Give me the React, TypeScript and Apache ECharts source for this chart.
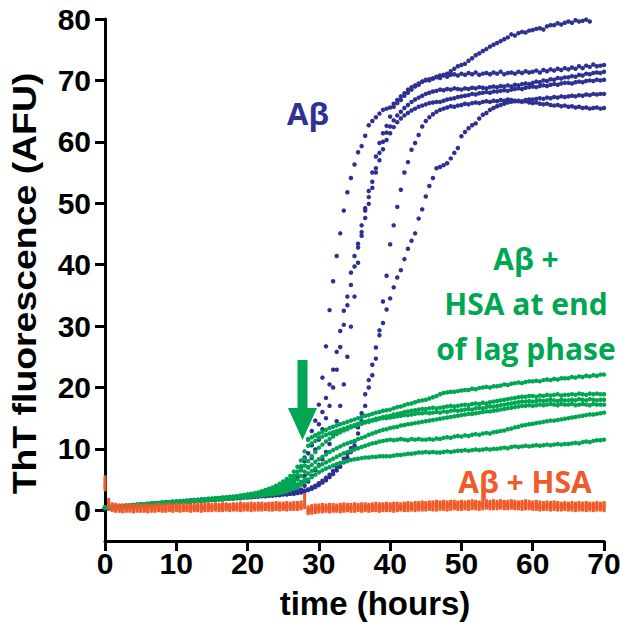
import React, { useEffect, useRef } from 'react';
import * as echarts from 'echarts';

// sampling times (hours), every 0.5 h from 0 to 70
const HOURS_STEP = 0.5;
const HOURS: number[] = Array.from({ length: 141 }, (_, i) => i * HOURS_STEP);

const X_TICKS = [0, 10, 20, 30, 40, 50, 60, 70];
const Y_TICKS = [0, 10, 20, 30, 40, 50, 60, 70, 80];

// Aβ alone (blue), six wells
const ABETA_1 = [
  0.3, 0.4, 0.4, 0.5, 0.6, 0.6, 0.7, 0.7, 0.8, 0.8,
  0.9, 0.9, 1.0, 1.0, 1.1, 1.1, 1.2, 1.2, 1.3, 1.3,
  1.4, 1.4, 1.5, 1.5, 1.6, 1.6, 1.7, 1.7, 1.7, 1.8,
  1.8, 1.9, 1.9, 2.0, 2.0, 2.1, 2.1, 2.2, 2.2, 2.3,
  2.3, 2.4, 2.5, 2.5, 2.6, 2.7, 2.8, 2.9, 3.1, 3.3,
  3.5, 3.8, 4.2, 4.8, 5.6, 7.0, 8.6, 11.5, 12.9, 14.6,
  17.2, 21.6, 26.7, 32.6, 37.3, 41.4, 45.1, 48.8, 51.8, 54.1,
  56.3, 58.3, 59.3, 61.0, 62.7, 63.4, 64.0, 64.6, 65.2, 65.4,
  65.6, 66.2, 66.8, 67.4, 67.9, 68.5, 68.9, 69.2, 69.5, 69.8,
  70.0, 70.2, 70.3, 70.6, 70.8, 70.9, 71.1, 71.5, 71.9, 72.3,
  72.5, 72.7, 73.2, 73.6, 74.1, 74.4, 74.8, 75.1, 75.5, 75.8,
  76.1, 76.4, 76.7, 77.0, 77.5, 77.3, 77.7, 77.9, 77.8, 78.1,
  78.2, 78.4, 78.5, 78.3, 78.8, 79.0, 79.0, 79.3, 79.1, 79.4,
  79.6, 79.4, 79.8, 79.6, 79.7, 79.9, 79.6, null, null, null,
  null,
];
const ABETA_2 = [
  0.4, 0.4, 0.5, 0.5, 0.6, 0.6, 0.7, 0.7, 0.8, 0.8,
  0.9, 0.9, 1.0, 1.0, 1.1, 1.1, 1.2, 1.2, 1.2, 1.3,
  1.3, 1.4, 1.4, 1.5, 1.5, 1.6, 1.6, 1.7, 1.7, 1.8,
  1.8, 1.8, 1.9, 1.9, 2.0, 2.0, 2.1, 2.1, 2.2, 2.2,
  2.3, 2.3, 2.4, 2.5, 2.5, 2.6, 2.7, 2.8, 2.9, 3.0,
  3.2, 3.5, 3.9, 4.5, 5.3, 6.5, 8.0, 9.3, 10.6, 12.2,
  14.0, 16.0, 18.3, 20.5, 22.9, 25.8, 29.2, 32.5, 34.8, 38.7,
  41.4, 43.4, 46.4, 49.2, 52.0, 55.0, 57.6, 59.8, 61.4, 62.6,
  64.1, 65.7, 66.3, 66.8, 67.5, 68.0, 68.5, 69.0, 69.3, 69.8,
  70.1, 70.0, 70.3, 70.5, 70.4, 70.8, 70.6, 70.9, 71.0, 70.8,
  71.1, 70.9, 71.2, 71.0, 71.3, 70.9, 71.1, 71.2, 71.0, 71.3,
  71.1, 71.4, 71.0, 71.2, 71.3, 71.1, 71.4, 71.2, 71.5, 71.3,
  71.4, 71.6, 71.3, 71.7, 71.5, 71.8, 71.6, 71.9, 71.7, 72.0,
  71.8, 72.1, 71.9, 72.3, 72.0, 72.4, 72.2, 72.6, 72.3, 72.4,
  72.5,
];
const ABETA_3 = [
  0.3, 0.4, 0.4, 0.5, 0.5, 0.6, 0.6, 0.7, 0.7, 0.8,
  0.8, 0.9, 0.9, 1.0, 1.0, 1.1, 1.1, 1.2, 1.2, 1.3,
  1.3, 1.3, 1.4, 1.4, 1.5, 1.5, 1.6, 1.6, 1.7, 1.7,
  1.8, 1.8, 1.8, 1.9, 1.9, 2.0, 2.0, 2.1, 2.1, 2.2,
  2.2, 2.3, 2.3, 2.4, 2.4, 2.5, 2.6, 2.6, 2.7, 2.8,
  2.8, 2.9, 3.1, 3.4, 3.9, 4.6, 5.6, 7.0, 8.5, 9.9,
  11.5, 13.2, 15.0, 17.0, 20.0, 22.9, 26.6, 30.2, 33.4, 36.7,
  39.7, 42.8, 45.3, 48.8, 51.0, 53.5, 55.7, 58.2, 60.0, 61.5,
  62.5, 63.5, 64.3, 64.9, 65.5, 66.0, 66.5, 66.9, 67.2, 67.5,
  67.8, 68.0, 68.2, 68.3, 68.5, 68.4, 68.6, 68.5, 68.7, 68.6,
  68.5, 68.7, 68.6, 68.8, 68.7, 68.9, 68.8, 68.7, 68.9, 69.0,
  68.9, 69.1, 69.0, 69.2, 69.0, 69.3, 69.2, 69.4, 69.5, 69.4,
  69.6, 69.8, 69.7, 70.0, 69.9, 70.2, 70.1, 70.4, 70.3, 70.5,
  70.5, 70.7, 70.6, 70.9, 70.8, 71.1, 71.0, 71.2, 71.3, 71.2,
  71.4,
];
const ABETA_4 = [
  0.4, 0.5, 0.5, 0.6, 0.6, 0.7, 0.7, 0.8, 0.8, 0.9,
  0.9, 1.0, 1.0, 1.1, 1.1, 1.2, 1.2, 1.3, 1.3, 1.4,
  1.4, 1.4, 1.5, 1.5, 1.6, 1.6, 1.6, 1.7, 1.7, 1.8,
  1.8, 1.9, 1.9, 1.9, 2.0, 2.0, 2.1, 2.1, 2.1, 2.2,
  2.2, 2.3, 2.3, 2.4, 2.4, 2.5, 2.5, 2.6, 2.6, 2.7,
  2.7, 2.7, 2.8, 2.9, 3.1, 3.4, 4.0, 4.7, 5.6, 6.5,
  7.4, 8.3, 9.5, 10.8, 12.5, 14.5, 17.0, 20.5, 25.0, 29.9,
  34.8, 40.3, 44.7, 47.6, 49.9, 52.5, 55.0, 57.0, 58.8, 60.3,
  61.4, 62.4, 63.2, 63.8, 64.3, 64.7, 65.1, 65.4, 65.7, 65.9,
  66.1, 66.3, 66.4, 66.5, 66.5, 66.7, 66.9, 67.0, 67.1, 67.3,
  67.4, 67.5, 67.6, 67.8, 67.7, 67.9, 68.0, 68.1, 68.0, 68.2,
  68.2, 68.3, 68.4, 68.3, 68.5, 68.6, 68.7, 68.6, 68.8, 68.9,
  69.0, 68.9, 69.1, 69.2, 69.1, 69.3, 69.4, 69.3, 69.5, 69.6,
  69.6, 69.5, 69.7, 69.8, 69.7, 69.9, 70.0, 69.9, 70.1, 70.0,
  70.1,
];
const ABETA_5 = [
  0.3, 0.3, 0.4, 0.4, 0.5, 0.5, 0.6, 0.6, 0.7, 0.7,
  0.8, 0.8, 0.9, 0.9, 1.0, 1.0, 1.1, 1.1, 1.2, 1.2,
  1.3, 1.3, 1.4, 1.4, 1.5, 1.5, 1.5, 1.6, 1.6, 1.7,
  1.7, 1.7, 1.8, 1.8, 1.9, 1.9, 1.9, 2.0, 2.0, 2.1,
  2.1, 2.1, 2.2, 2.2, 2.3, 2.3, 2.4, 2.4, 2.5, 2.5,
  2.6, 2.6, 2.7, 2.8, 2.9, 3.0, 3.2, 3.4, 3.7, 4.0,
  4.4, 4.8, 5.3, 5.8, 6.4, 7.0, 7.7, 8.4, 9.2, 10.1,
  11.2, 13.5, 15.8, 18.9, 21.2, 23.7, 26.5, 29.3, 34.0, 38.2,
  43.3, 46.4, 49.4, 52.2, 55.0, 56.7, 58.7, 59.8, 61.1, 62.5,
  63.4, 64.0, 64.5, 64.9, 65.2, 65.4, 65.6, 65.8, 65.7, 65.9,
  66.0, 66.2, 66.1, 66.3, 66.4, 66.3, 66.5, 66.6, 66.5, 66.7,
  66.6, 66.8, 66.7, 66.9, 66.8, 66.7, 66.6, 66.5, 66.6, 66.4,
  66.3, 66.4, 66.2, 66.1, 66.2, 66.0, 65.9, 66.0, 65.8, 65.9,
  65.7, 65.8, 65.6, 65.7, 65.5, 65.6, 65.4, 65.5, 65.6, 65.4,
  65.5,
];
const ABETA_6 = [
  0.4, 0.4, 0.5, 0.5, 0.5, 0.6, 0.6, 0.7, 0.7, 0.8,
  0.8, 0.9, 0.9, 1.0, 1.0, 1.0, 1.1, 1.1, 1.2, 1.2,
  1.3, 1.3, 1.4, 1.4, 1.4, 1.5, 1.5, 1.6, 1.6, 1.7,
  1.7, 1.8, 1.8, 1.8, 1.9, 1.9, 2.0, 2.0, 2.0, 2.1,
  2.1, 2.2, 2.2, 2.3, 2.3, 2.3, 2.4, 2.4, 2.5, 2.5,
  2.6, 2.6, 2.7, 2.7, 2.8, 2.9, 3.1, 3.3, 3.5, 3.8,
  4.1, 4.5, 4.9, 5.4, 5.9, 6.5, 7.1, 7.8, 8.6, 9.5,
  10.5, 12.5, 14.5, 17.0, 20.0, 22.0, 24.7, 28.5, 30.5, 32.7,
  34.5, 36.3, 37.9, 39.1, 40.9, 42.6, 43.9, 45.1, 47.5, 49.0,
  51.1, 52.8, 54.1, 55.7, 55.9, 56.2, 56.5, 57.3, 58.2, 59.0,
  60.9, 61.6, 62.2, 62.7, 63.0, 63.8, 64.4, 64.7, 65.2, 65.5,
  65.8, 66.0, 66.2, 66.4, 66.5, 66.6, 66.7, 66.6, 66.8, 66.9,
  66.9, 67.0, 67.1, 67.0, 67.2, 67.1, 67.3, 67.2, 67.4, 67.3,
  67.4, 67.5, 67.4, 67.6, 67.5, 67.7, 67.6, 67.8, 67.7, 67.8,
  67.8,
];

// Aβ + HSA added at end of lag phase (green), six wells
const LAG_HSA_1 = [
  0.5, 0.5, 0.6, 0.6, 0.7, 0.7, 0.8, 0.8, 0.9, 0.9,
  1.0, 1.0, 1.1, 1.1, 1.2, 1.2, 1.3, 1.3, 1.3, 1.4,
  1.4, 1.5, 1.5, 1.6, 1.6, 1.7, 1.7, 1.8, 1.8, 1.9,
  1.9, 2.0, 2.0, 2.1, 2.1, 2.2, 2.2, 2.3, 2.4, 2.5,
  2.6, 2.7, 2.8, 2.9, 3.1, 3.3, 3.5, 3.7, 4.0, 4.3,
  4.7, 5.1, 5.6, 6.3, 7.1, 8.1, 9.6, 11.6, 11.9, 12.2,
  12.5, 12.8, 13.1, 13.4, 13.6, 13.8, 14.0, 14.2, 14.4, 14.6,
  14.8, 15.0, 15.2, 15.4, 15.5, 15.7, 15.9, 16.0, 16.2, 16.3,
  16.4, 16.6, 16.8, 16.9, 17.1, 17.3, 17.4, 17.6, 17.8, 17.9,
  18.0, 18.2, 18.4, 18.6, 18.9, 19.1, 19.2, 19.3, 19.3, 19.4,
  19.5, 19.6, 19.6, 19.8, 19.7, 19.9, 20.0, 20.1, 20.0, 20.2,
  20.2, 20.3, 20.5, 20.4, 20.6, 20.7, 20.8, 20.7, 20.9, 21.0,
  21.0, 21.1, 21.0, 21.2, 21.3, 21.2, 21.4, 21.3, 21.5, 21.5,
  21.5, 21.7, 21.6, 21.8, 21.7, 21.9, 21.8, 22.0, 21.9, 22.1,
  22.1,
];
const LAG_HSA_2 = [
  0.4, 0.5, 0.5, 0.6, 0.6, 0.7, 0.7, 0.8, 0.8, 0.9,
  0.9, 1.0, 1.0, 1.1, 1.1, 1.2, 1.2, 1.3, 1.3, 1.4,
  1.4, 1.4, 1.5, 1.5, 1.6, 1.6, 1.7, 1.7, 1.8, 1.8,
  1.9, 1.9, 2.0, 2.0, 2.1, 2.1, 2.2, 2.2, 2.3, 2.4,
  2.5, 2.6, 2.7, 2.8, 3.0, 3.1, 3.3, 3.5, 3.8, 4.0,
  4.3, 4.6, 5.0, 5.6, 6.3, 7.2, 8.4, 10.5, 10.9, 11.3,
  11.8, 12.0, 12.3, 12.5, 12.7, 12.9, 13.1, 13.3, 13.5, 13.7,
  13.9, 14.1, 14.2, 14.4, 14.6, 14.7, 14.9, 15.0, 15.2, 15.3,
  15.4, 15.6, 15.7, 15.8, 16.0, 16.1, 16.2, 16.3, 16.4, 16.5,
  16.5, 16.6, 16.7, 16.6, 16.7, 16.8, 16.9, 17.0, 16.9, 17.0,
  17.1, 17.2, 17.1, 17.3, 17.4, 17.3, 17.5, 17.4, 17.6, 17.7,
  17.8, 17.9, 18.0, 18.1, 18.2, 18.3, 18.4, 18.5, 18.5, 18.6,
  18.6, 18.5, 18.7, 18.6, 18.8, 18.7, 18.8, 18.9, 18.7, 18.8,
  18.8, 18.9, 18.8, 19.0, 18.9, 18.8, 19.0, 18.9, 19.0, 18.9,
  18.9,
];
const LAG_HSA_3 = [
  0.4, 0.4, 0.5, 0.5, 0.6, 0.6, 0.7, 0.7, 0.8, 0.8,
  0.9, 0.9, 1.0, 1.0, 1.1, 1.1, 1.2, 1.2, 1.3, 1.3,
  1.4, 1.4, 1.5, 1.5, 1.5, 1.6, 1.6, 1.7, 1.7, 1.8,
  1.8, 1.9, 1.9, 2.0, 2.0, 2.1, 2.1, 2.2, 2.2, 2.3,
  2.4, 2.5, 2.6, 2.7, 2.9, 3.0, 3.2, 3.3, 3.5, 3.7,
  4.0, 4.3, 4.7, 5.2, 5.8, 6.6, 7.3, 8.0, 8.8, 9.5,
  10.2, 10.7, 11.2, 11.6, 12.0, 12.4, 12.7, 13.0, 13.2, 13.5,
  13.7, 13.9, 14.1, 14.3, 14.4, 14.6, 14.7, 14.9, 15.0, 15.0,
  15.1, 15.2, 15.3, 15.4, 15.5, 15.5, 15.6, 15.7, 15.8, 15.8,
  15.9, 15.8, 15.9, 16.0, 15.9, 16.1, 16.0, 16.2, 16.3, 16.2,
  16.3, 16.4, 16.5, 16.4, 16.6, 16.7, 16.6, 16.8, 16.9, 16.9,
  17.0, 17.1, 17.2, 17.3, 17.4, 17.5, 17.6, 17.7, 17.7, 17.8,
  17.7, 17.8, 17.9, 17.8, 17.9, 18.0, 17.9, 17.8, 18.0, 17.9,
  17.9, 18.0, 17.9, 18.1, 18.0, 17.9, 18.1, 18.0, 17.9, 18.0,
  18.0,
];
const LAG_HSA_4 = [
  0.5, 0.5, 0.5, 0.6, 0.6, 0.7, 0.7, 0.8, 0.8, 0.9,
  0.9, 1.0, 1.0, 1.0, 1.1, 1.1, 1.2, 1.2, 1.3, 1.3,
  1.3, 1.4, 1.4, 1.5, 1.5, 1.6, 1.6, 1.6, 1.7, 1.7,
  1.8, 1.8, 1.9, 1.9, 2.0, 2.0, 2.1, 2.1, 2.2, 2.2,
  2.3, 2.4, 2.5, 2.6, 2.7, 2.8, 2.9, 3.1, 3.3, 3.4,
  3.6, 3.9, 4.2, 4.6, 5.0, 5.6, 6.3, 7.0, 7.4, 7.9,
  8.3, 8.7, 9.1, 9.5, 9.8, 10.1, 10.4, 10.7, 10.9, 11.1,
  11.3, 11.6, 11.8, 12.0, 12.3, 12.5, 12.7, 12.9, 13.1, 13.2,
  13.4, 13.5, 13.6, 13.8, 13.9, 14.0, 14.1, 14.2, 14.3, 14.4,
  14.5, 14.6, 14.7, 14.8, 14.9, 15.0, 15.1, 15.2, 15.3, 15.4,
  15.5, 15.6, 15.7, 15.7, 15.8, 15.9, 16.0, 16.1, 16.1, 16.2,
  16.3, 16.4, 16.5, 16.6, 16.7, 16.8, 16.9, 17.0, 17.0, 17.1,
  17.0, 17.1, 17.2, 17.1, 17.2, 17.3, 17.2, 17.1, 17.3, 17.2,
  17.2, 17.3, 17.1, 17.2, 17.3, 17.2, 17.1, 17.3, 17.2, 17.2,
  17.2,
];
const LAG_HSA_5 = [
  0.4, 0.4, 0.5, 0.5, 0.6, 0.6, 0.6, 0.7, 0.7, 0.8,
  0.8, 0.9, 0.9, 1.0, 1.0, 1.1, 1.1, 1.1, 1.2, 1.2,
  1.3, 1.3, 1.4, 1.4, 1.5, 1.5, 1.5, 1.6, 1.6, 1.7,
  1.7, 1.8, 1.8, 1.9, 1.9, 2.0, 2.0, 2.0, 2.1, 2.1,
  2.2, 2.3, 2.3, 2.4, 2.5, 2.6, 2.7, 2.8, 2.9, 3.0,
  3.2, 3.4, 3.6, 3.9, 4.2, 4.6, 5.1, 6.0, 6.4, 6.8,
  7.2, 7.5, 7.8, 8.1, 8.4, 8.7, 9.0, 9.3, 9.5, 9.7,
  9.9, 10.1, 10.3, 10.5, 10.7, 10.9, 11.0, 11.2, 11.3, 11.4,
  11.5, 11.4, 11.5, 11.6, 11.5, 11.4, 11.6, 11.5, 11.6, 11.5,
  11.5, 11.6, 11.5, 11.7, 11.6, 11.8, 11.9, 11.8, 12.0, 12.1,
  12.0, 12.2, 12.1, 12.3, 12.4, 12.3, 12.5, 12.6, 12.5, 12.7,
  12.8, 12.9, 13.0, 13.2, 13.3, 13.5, 13.6, 13.8, 13.9, 14.0,
  14.1, 14.2, 14.3, 14.4, 14.5, 14.6, 14.6, 14.7, 14.8, 14.9,
  15.0, 15.1, 15.2, 15.3, 15.4, 15.5, 15.6, 15.6, 15.7, 15.8,
  15.9,
];
const LAG_HSA_6 = [
  0.5, 0.5, 0.5, 0.6, 0.6, 0.7, 0.7, 0.7, 0.8, 0.8,
  0.9, 0.9, 1.0, 1.0, 1.0, 1.1, 1.1, 1.2, 1.2, 1.3,
  1.3, 1.3, 1.4, 1.4, 1.5, 1.5, 1.6, 1.6, 1.6, 1.7,
  1.7, 1.8, 1.8, 1.8, 1.9, 1.9, 2.0, 2.0, 2.1, 2.1,
  2.1, 2.2, 2.3, 2.3, 2.4, 2.5, 2.6, 2.6, 2.7, 2.8,
  2.9, 3.1, 3.3, 3.5, 3.8, 4.2, 4.6, 5.0, 5.4, 5.8,
  6.2, 6.5, 6.8, 7.0, 7.3, 7.5, 7.7, 7.9, 8.0, 8.2,
  8.3, 8.4, 8.5, 8.6, 8.6, 8.7, 8.7, 8.8, 8.8, 8.8,
  8.8, 8.9, 9.0, 9.0, 9.1, 9.2, 9.2, 9.3, 9.4, 9.4,
  9.5, 9.4, 9.5, 9.4, 9.4, 9.5, 9.6, 9.5, 9.6, 9.7,
  9.7, 9.8, 9.7, 9.8, 9.9, 9.8, 9.9, 10.0, 9.9, 10.0,
  10.0, 10.1, 10.2, 10.1, 10.3, 10.4, 10.3, 10.4, 10.5, 10.4,
  10.5, 10.6, 10.5, 10.6, 10.7, 10.6, 10.7, 10.8, 10.7, 10.8,
  10.8, 10.9, 11.0, 10.9, 11.1, 11.2, 11.1, 11.3, 11.4, 11.4,
  11.5,
];

// Aβ + HSA from the start (orange)
const HSA_1 = [
  5.3, 1.6, 0.9, 0.8, 0.7, 0.7, 0.6, 0.7, 0.6, 0.7,
  0.6, 0.7, 0.7, 0.6, 0.7, 0.8, 0.7, 0.7, 0.8, 0.7,
  0.8, 0.7, 0.8, 0.8, 0.7, 0.8, 0.9, 0.8, 0.8, 0.9,
  0.8, 0.9, 0.8, 0.9, 0.9, 0.8, 0.9, 0.9, 1.0, 0.9,
  0.9, 1.0, 0.9, 1.0, 1.0, 0.9, 1.0, 1.0, 1.1, 1.0,
  1.0, 1.1, 1.0, 1.1, 1.1, 1.2, 2.4, 0.4, 0.6, 0.7,
  0.7, 0.8, 0.7, 0.8, 0.8, 0.7, 0.8, 0.9, 0.8, 0.8,
  0.9, 0.8, 0.9, 0.9, 0.8, 0.9, 1.0, 0.9, 0.9, 1.0,
  0.9, 1.0, 1.0, 0.9, 1.0, 1.1, 1.0, 1.1, 1.1, 1.2,
  1.1, 1.2, 1.2, 1.3, 1.2, 1.3, 1.2, 1.3, 1.3, 1.2,
  1.3, 1.2, 1.3, 1.4, 1.3, 1.2, 1.3, 1.4, 1.3, 1.4,
  1.3, 1.4, 1.3, 1.3, 1.4, 1.3, 1.2, 1.3, 1.4, 1.3,
  1.2, 1.3, 1.2, 1.1, 1.2, 1.1, 1.2, 1.1, 1.0, 1.1,
  1.0, 1.1, 1.0, 1.1, 1.0, 1.1, 1.0, 1.0, 1.1, 1.0,
  1.1,
];
const HSA_2 = [
  4.6, 1.2, 0.6, 0.5, 0.4, 0.4, 0.5, 0.4, 0.5, 0.4,
  0.5, 0.4, 0.5, 0.5, 0.4, 0.5, 0.5, 0.6, 0.5, 0.5,
  0.6, 0.5, 0.5, 0.6, 0.6, 0.5, 0.6, 0.6, 0.5, 0.6,
  0.6, 0.7, 0.6, 0.6, 0.7, 0.6, 0.7, 0.6, 0.7, 0.7,
  0.6, 0.7, 0.7, 0.6, 0.7, 0.7, 0.8, 0.7, 0.7, 0.8,
  0.7, 0.8, 0.7, 0.8, 0.8, 0.8, 1.8, 0.1, 0.3, 0.4,
  0.4, 0.5, 0.4, 0.5, 0.5, 0.4, 0.5, 0.5, 0.6, 0.5,
  0.5, 0.6, 0.5, 0.6, 0.6, 0.5, 0.6, 0.6, 0.7, 0.6,
  0.6, 0.7, 0.6, 0.7, 0.7, 0.8, 0.7, 0.8, 0.8, 0.9,
  0.8, 0.9, 0.9, 0.8, 0.9, 1.0, 0.9, 1.0, 0.9, 1.0,
  1.0, 0.9, 1.0, 1.0, 1.1, 1.0, 1.0, 1.1, 1.0, 1.1,
  1.0, 1.1, 1.0, 1.0, 1.1, 1.0, 0.9, 1.0, 1.0, 0.9,
  0.9, 0.9, 0.8, 0.9, 0.8, 0.8, 0.9, 0.8, 0.7, 0.8,
  0.8, 0.7, 0.8, 0.7, 0.7, 0.8, 0.7, 0.7, 0.8, 0.7,
  0.8,
];
const HSA_3 = [
  4.0, 0.9, 0.3, 0.2, 0.2, 0.1, 0.2, 0.2, 0.1, 0.2,
  0.2, 0.1, 0.2, 0.2, 0.3, 0.2, 0.2, 0.3, 0.2, 0.3,
  0.3, 0.2, 0.3, 0.3, 0.2, 0.3, 0.3, 0.4, 0.3, 0.3,
  0.4, 0.3, 0.4, 0.3, 0.4, 0.4, 0.3, 0.4, 0.4, 0.5,
  0.4, 0.4, 0.5, 0.4, 0.5, 0.4, 0.5, 0.5, 0.4, 0.5,
  0.5, 0.5, 0.6, 0.5, 0.6, 0.6, 1.2, -0.2, 0.0, 0.1,
  0.2, 0.1, 0.2, 0.2, 0.1, 0.2, 0.3, 0.2, 0.2, 0.3,
  0.3, 0.2, 0.3, 0.3, 0.3, 0.2, 0.3, 0.4, 0.3, 0.3,
  0.4, 0.3, 0.4, 0.4, 0.3, 0.4, 0.5, 0.4, 0.5, 0.5,
  0.5, 0.6, 0.5, 0.6, 0.6, 0.5, 0.6, 0.7, 0.6, 0.6,
  0.7, 0.6, 0.7, 0.7, 0.6, 0.7, 0.8, 0.7, 0.7, 0.8,
  0.7, 0.7, 0.8, 0.7, 0.7, 0.6, 0.7, 0.7, 0.6, 0.7,
  0.6, 0.6, 0.5, 0.6, 0.6, 0.5, 0.6, 0.5, 0.5, 0.6,
  0.5, 0.5, 0.4, 0.5, 0.5, 0.4, 0.5, 0.5, 0.4, 0.5,
  0.4,
];
const HSA_4 = [
  3.5, 0.6, 0.1, 0.0, 0.0, -0.1, 0.0, 0.0, -0.1, 0.0,
  0.0, 0.0, -0.1, 0.0, 0.0, 0.1, 0.0, 0.0, 0.1, 0.0,
  0.1, 0.0, 0.1, 0.1, 0.0, 0.1, 0.1, 0.0, 0.1, 0.1,
  0.1, 0.2, 0.1, 0.1, 0.2, 0.1, 0.2, 0.2, 0.1, 0.2,
  0.2, 0.1, 0.2, 0.2, 0.2, 0.3, 0.2, 0.2, 0.3, 0.2,
  0.3, 0.2, 0.3, 0.3, 0.3, 0.4, 0.6, -0.4, -0.3, -0.2,
  -0.1, -0.1, 0.0, -0.1, 0.0, 0.0, -0.1, 0.0, 0.1, 0.0,
  0.0, 0.1, 0.0, 0.1, 0.0, 0.1, 0.1, 0.0, 0.1, 0.1,
  0.1, 0.0, 0.1, 0.2, 0.1, 0.1, 0.2, 0.1, 0.2, 0.2,
  0.2, 0.3, 0.2, 0.2, 0.3, 0.3, 0.2, 0.3, 0.4, 0.3,
  0.3, 0.4, 0.3, 0.4, 0.4, 0.3, 0.4, 0.5, 0.4, 0.4,
  0.4, 0.5, 0.4, 0.4, 0.5, 0.4, 0.4, 0.3, 0.4, 0.4,
  0.3, 0.3, 0.2, 0.3, 0.3, 0.2, 0.3, 0.2, 0.2, 0.3,
  0.2, 0.2, 0.1, 0.2, 0.2, 0.1, 0.2, 0.1, 0.2, 0.2,
  0.1,
];

const ABETA_SERIES = [ABETA_1, ABETA_2, ABETA_3, ABETA_4, ABETA_5, ABETA_6];
const LAG_HSA_SERIES = [LAG_HSA_1, LAG_HSA_2, LAG_HSA_3, LAG_HSA_4, LAG_HSA_5, LAG_HSA_6];
const HSA_SERIES = [HSA_1, HSA_2, HSA_3, HSA_4];

const BLUE = '#2e3192';
const GREEN = '#00a651';
const ORANGE = '#f15a29';

const AXIS_FONT = '"Liberation Sans", Arial, sans-serif';
const LABEL_FONT = '"Open Sans", "Noto Sans", sans-serif';

function toPairs(values: (number | null)[]) {
  const out: [number, number][] = [];
  values.forEach((v, i) => {
    if (v !== null && v !== undefined && i < HOURS.length) out.push([HOURS[i], v]);
  });
  return out;
}

function scatter(values: (number | null)[], color: string, symbol: string, size: any, z: number) {
  return {
    type: 'scatter',
    data: toPairs(values),
    symbol,
    symbolSize: size,
    itemStyle: { color, opacity: 1 },
    silent: true,
    z,
  };
}

export default function App() {
  const ref = useRef<HTMLDivElement>(null);

  useEffect(() => {
    if (!ref.current) return;
    const chart = echarts.init(ref.current, null, { renderer: 'svg' });

    const series: any[] = [];
    ABETA_SERIES.forEach((s) => series.push(scatter(s, BLUE, 'circle', 4.5, 2)));
    LAG_HSA_SERIES.forEach((s) => series.push(scatter(s, GREEN, 'circle', 4.5, 3)));
    HSA_SERIES.forEach((s) => series.push(scatter(s, ORANGE, 'rect', [3, 5], 4)));

    const option: any = {
      animation: false,
      backgroundColor: '#ffffff',
      grid: { left: 105, right: 19, top: 19, bottom: 82, containLabel: false, outerBoundsMode: 'none' },
      xAxis: {
        type: 'value',
        min: 0,
        max: 70,
        interval: 10,
        axisLine: { show: true, onZero: false, lineStyle: { color: '#000', width: 3 } },
        axisTick: { show: true, length: 10, customValues: X_TICKS, lineStyle: { color: '#000', width: 3 } },
        axisLabel: {
          show: true,
          customValues: X_TICKS,
          margin: 7,
          color: '#000',
          fontFamily: AXIS_FONT,
          fontWeight: 'bold',
          fontSize: 30,
        },
        splitLine: { show: false },
      },
      yAxis: {
        type: 'value',
        min: -5,
        max: 80,
        axisLine: { show: true, onZero: false, lineStyle: { color: '#000', width: 3 } },
        axisTick: { show: true, length: 10, customValues: Y_TICKS, lineStyle: { color: '#000', width: 3 } },
        axisLabel: {
          show: true,
          customValues: Y_TICKS,
          margin: 14,
          color: '#000',
          fontFamily: AXIS_FONT,
          fontWeight: 'bold',
          fontSize: 30,
        },
        splitLine: { show: false },
      },
      series,
      graphic: [
        {
          type: 'text',
          x: 24.5,
          y: 283.5,
          rotation: Math.PI / 2,
          scaleX: 1.1,
          style: {
            text: 'ThT fluorescence (AFU)',
            font: `bold 34px ${AXIS_FONT}`,
            fill: '#000',
            align: 'center',
            verticalAlign: 'middle',
            textAlign: 'center',
            textVerticalAlign: 'middle',
          },
        },
        {
          type: 'text',
          x: 375,
          y: 603.6,
          style: {
            text: 'time (hours)',
            font: `bold 33px ${AXIS_FONT}`,
            fill: '#000',
            align: 'center',
            verticalAlign: 'middle',
            textAlign: 'center',
            textVerticalAlign: 'middle',
          },
        },
        {
          type: 'text',
          x: 308,
          y: 113,
          style: {
            text: 'Aβ',
            font: `bold 31px ${LABEL_FONT}`,
            fill: BLUE,
            align: 'center',
            verticalAlign: 'middle',
            textAlign: 'center',
            textVerticalAlign: 'middle',
          },
        },
        ...['Aβ +', 'HSA at end', 'of lag phase'].map((t, i) => ({
          type: 'text',
          x: 526,
          y: 258.4 + i * 45,
          style: {
            text: t,
            font: `bold 30px ${LABEL_FONT}`,
            fill: GREEN,
            align: 'center',
            verticalAlign: 'middle',
            textAlign: 'center',
            textVerticalAlign: 'middle',
          },
        })),
        {
          type: 'text',
          x: 525,
          y: 481.4,
          style: {
            text: 'Aβ + HSA',
            font: `bold 30px ${LABEL_FONT}`,
            fill: ORANGE,
            align: 'center',
            verticalAlign: 'middle',
            textAlign: 'center',
            textVerticalAlign: 'middle',
          },
        },
        {
          type: 'rect',
          shape: { x: 297.5, y: 360, width: 10, height: 50 },
          style: { fill: GREEN },
        },
        {
          type: 'polygon',
          shape: { points: [[288, 408], [317, 408], [302.5, 440]] },
          style: { fill: GREEN },
        },
      ],
    };

    chart.setOption(option);
    return () => chart.dispose();
  }, []);

  return (
    <div
      ref={ref}
      style={{ position: 'absolute', left: 0, top: 0, width: 623, height: 623, background: '#fff' }}
    />
  );
}
